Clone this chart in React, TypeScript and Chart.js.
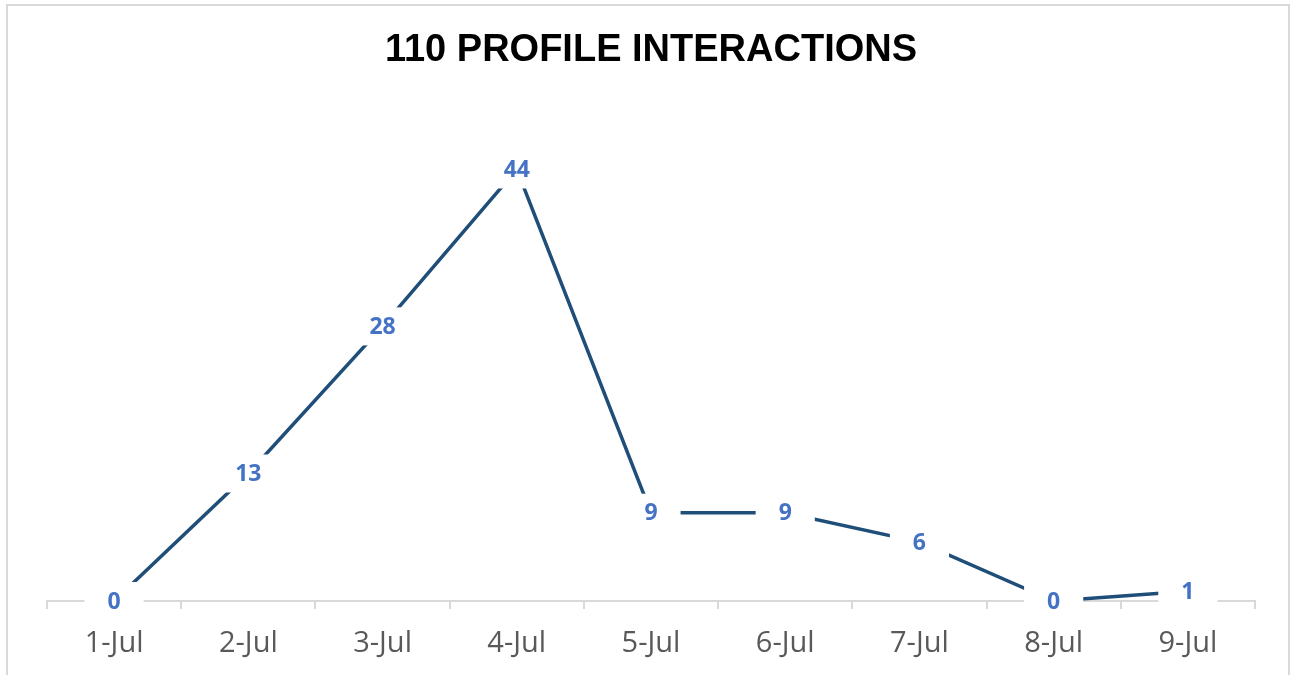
import React, { useEffect, useRef } from "react";
import { Chart, registerables } from "chart.js";

Chart.register(...registerables);

const categories = ["1-Jul", "2-Jul", "3-Jul", "4-Jul", "5-Jul", "6-Jul", "7-Jul", "8-Jul", "9-Jul"];
const interactions = [0, 13, 28, 44, 9, 9, 6, 0, 1];
const chartTitle = "110 PROFILE INTERACTIONS";

const labelPlugin = {
  id: "boxedLabels",
  afterDatasetsDraw(chart: any) {
    const ctx = chart.ctx;
    const meta = chart.getDatasetMeta(0);
    ctx.save();
    ctx.font = "bold 23px 'Open Sans'";
    ctx.textAlign = "center";
    ctx.textBaseline = "middle";
    meta.data.forEach((pt: any, i: number) => {
      const txt = String(interactions[i]);
      const w = ctx.measureText(txt).width + 46;
      const h = 38;
      ctx.fillStyle = "#ffffff";
      ctx.fillRect(pt.x - w / 2, pt.y - h / 2, w, h);
      ctx.fillStyle = "#4472C4";
      ctx.fillText(txt, pt.x, pt.y + 1);
    });
    ctx.restore();
  },
};

export default function App() {
  const ref = useRef<HTMLCanvasElement>(null);
  useEffect(() => {
    if (!ref.current) return;
    const chart = new Chart(ref.current, {
      type: "line",
      data: {
        labels: categories,
        datasets: [
          {
            data: interactions,
            borderColor: "#1F4E79",
            borderWidth: 3.5,
            pointRadius: 0,
            tension: 0,
            fill: false,
          },
        ],
      },
      options: {
        animation: false,
        responsive: false,
        maintainAspectRatio: false,
        layout: { padding: { left: 47, right: 39, top: 0, bottom: -3 } },
        plugins: {
          legend: { display: false },
          tooltip: { enabled: false },
          title: {
            display: true,
            text: chartTitle,
            color: "#000000",
            font: { family: "'Liberation Sans', Arial", size: 38, weight: "bold" },
            padding: { top: 28, bottom: 37 },
          },
        },
        scales: {
          x: {
            offset: true,
            grid: {
              offset: true,
              drawOnChartArea: false,
              drawTicks: true,
              tickLength: 8,
              color: "#D9D9D9",
              lineWidth: 2,
            },
            border: { display: true, color: "#D9D9D9", width: 2 },
            ticks: {
              color: "#595959",
              font: { family: "'Open Sans'", size: 29, lineHeight: 1 },
              padding: 20,
              maxRotation: 0,
            },
          },
          y: {
            display: false,
            min: 0,
            max: 50,
          },
        },
      },
      plugins: [labelPlugin],
    });
    return () => chart.destroy();
  }, []);
  return (
    <div style={{ position: "fixed", left: 0, top: 0, width: 1294, height: 675, background: "#fff", overflow: "hidden" }}>
      <canvas ref={ref} width={1294} height={675} style={{ position: "absolute", left: 0, top: 0 }} />
      <div
        style={{
          position: "absolute",
          left: 6,
          top: 4,
          width: 1284,
          height: 720,
          border: "2px solid #D9D9D9",
          boxSizing: "border-box",
          pointerEvents: "none",
        }}
      />
    </div>
  );
}
